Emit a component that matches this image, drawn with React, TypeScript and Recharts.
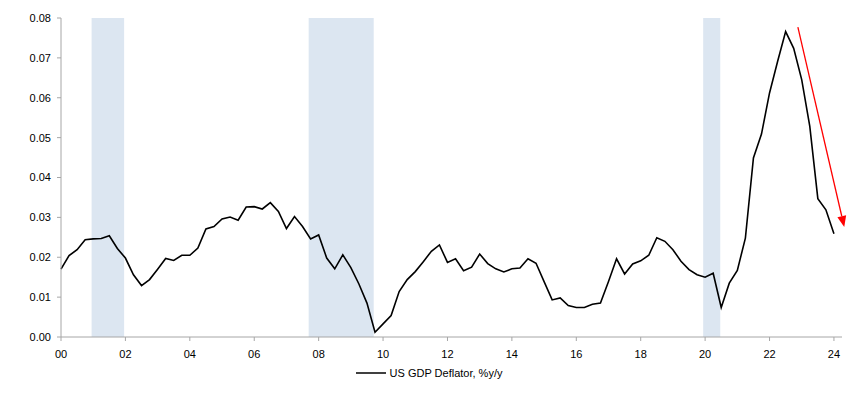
import React from 'react'
import {
  LineChart,
  Line,
  XAxis,
  YAxis,
  ReferenceArea,
  ReferenceLine,
  Legend,
} from 'recharts'

// US GDP deflator, % y/y, quarterly from 2000 Q1
const deflator = [
  0.017, 0.0204, 0.0219, 0.0244, 0.0246, 0.0247, 0.0254, 0.0222,
  0.0198, 0.0156, 0.0129, 0.0144, 0.017, 0.0197, 0.0192, 0.0205,
  0.0205, 0.0223, 0.0271, 0.0277, 0.0296, 0.0301, 0.0293, 0.0326,
  0.0327, 0.0321, 0.0337, 0.0315, 0.0272, 0.0302, 0.0277, 0.0246,
  0.0256, 0.0198, 0.0171, 0.0206, 0.0174, 0.0133, 0.0085, 0.0012,
  0.0033, 0.0054, 0.0114, 0.0144, 0.0164, 0.0189, 0.0215, 0.0231,
  0.0187, 0.0196, 0.0166, 0.0175, 0.0208, 0.0184, 0.0171, 0.0163,
  0.0171, 0.0173, 0.0196, 0.0185, 0.0139, 0.0093, 0.0098, 0.0079,
  0.0074, 0.0074, 0.0082, 0.0085, 0.0139, 0.0196, 0.0158, 0.0183,
  0.0191, 0.0205, 0.0249, 0.024, 0.0219, 0.019, 0.0169, 0.0156,
  0.015, 0.016, 0.0074, 0.0135, 0.0167, 0.0248, 0.0449, 0.0509,
  0.0612, 0.0691, 0.0766, 0.0724, 0.0645, 0.0528, 0.0347, 0.0319,
  0.0259,
]

// years since 2000, one per quarter
const quarters = deflator.map((_, i) => i / 4)

const xTicks = [0, 2, 4, 6, 8, 10, 12, 14, 16, 18, 20, 22, 24]
const yTicks = [0, 0.01, 0.02, 0.03, 0.04, 0.05, 0.06, 0.07, 0.08]

// recession shading (years since 2000)
const recessions = [
  [0.95, 1.96],
  [7.69, 9.71],
  [19.94, 20.47],
]

// red arrow annotation
const arrowFrom = { x: 22.88, y: 0.0777 }
const arrowTo = { x: 24.32, y: 0.0276 }

const data = quarters.map((t, i) => ({ t, value: deflator[i] }))

const font = '"Liberation Sans", Arial, sans-serif'

function Arrow(props: any) {
  const { x1, y1, x2, y2 } = props
  const dx = x2 - x1
  const dy = y2 - y1
  const len = Math.sqrt(dx * dx + dy * dy)
  const ux = dx / len
  const uy = dy / len
  const head = 11
  const half = 4.5
  const bx = x2 - ux * head
  const by = y2 - uy * head
  return (
    <g>
      <line x1={x1} y1={y1} x2={bx} y2={by} stroke="#ff0000" strokeWidth={1.3} />
      <polygon
        points={`${x2},${y2} ${bx - uy * half},${by + ux * half} ${bx + uy * half},${by - ux * half}`}
        fill="#ff0000"
      />
    </g>
  )
}

function LegendBox() {
  return (
    <div
      style={{
        height: 16,
        display: 'flex',
        justifyContent: 'center',
        alignItems: 'center',
        paddingLeft: 16,
        fontFamily: font,
        fontSize: 11,
        color: '#000',
      }}
    >
      <svg width={30} height={4} style={{ marginRight: 4 }}>
        <line x1={0} y1={2} x2={30} y2={2} stroke="#000" strokeWidth={1.5} />
      </svg>
      <span>US GDP Deflator, %y/y</span>
    </div>
  )
}

export default function App() {
  return (
    <div style={{ position: 'absolute', left: 0, top: 0 }}>
      <LineChart
        width={852}
        height={397}
        data={data}
        margin={{ top: 18, right: 10, left: 0, bottom: 16 }}
      >
        {recessions.map(([a, b]) => (
          <ReferenceArea
            key={a}
            x1={a}
            x2={b}
            y1={0}
            y2={0.08}
            fill="#dce6f1"
            fillOpacity={1}
            stroke="none"
            ifOverflow="visible"
          />
        ))}
        <XAxis
          dataKey="t"
          type="number"
          domain={[0, 24.25]}
          ticks={xTicks}
          tickFormatter={(v: number) => String(v).padStart(2, '0')}
          interval={0}
          height={28}
          tickSize={4}
          tickMargin={9}
          stroke="#a6a6a6"
          tick={{ fill: '#000', fontSize: 11, fontFamily: font }}
        />
        <YAxis
          type="number"
          domain={[0, 0.08]}
          ticks={yTicks}
          tickFormatter={(v: number) => v.toFixed(2)}
          width={61}
          tickSize={4}
          tickMargin={6}
          stroke="#a6a6a6"
          tick={{ fill: '#000', fontSize: 11, fontFamily: font }}
        />
        <Line
          type="linear"
          dataKey="value"
          name="US GDP Deflator, %y/y"
          stroke="#000"
          strokeWidth={1.6}
          dot={false}
          isAnimationActive={false}
        />
        <ReferenceLine
          segment={[arrowFrom, arrowTo]}
          ifOverflow="visible"
          shape={Arrow}
        />
        <Legend verticalAlign="bottom" content={() => <LegendBox />} />
      </LineChart>
    </div>
  )
}
